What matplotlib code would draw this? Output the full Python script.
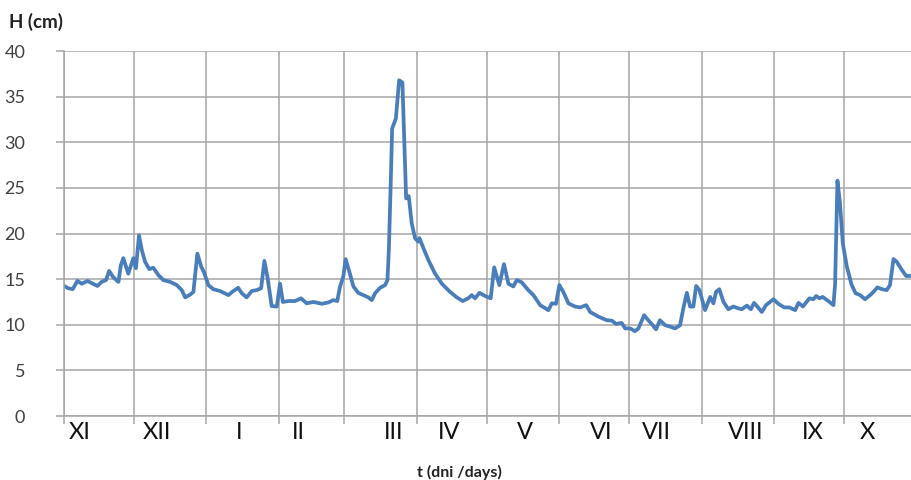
import matplotlib.pyplot as plt
from matplotlib.ticker import FixedLocator, NullFormatter

plt.rcParams['font.family'] = ['Lato', 'DejaVu Sans']

# days counted from 1 November
days = [0.1, 1.8, 3.7, 5.7, 7.6, 10, 12.3, 14.3, 16.1, 18, 19.3, 21.1, 23.3, 24.3, 25.4,
        27.5, 29.7, 30.8, 32.1, 33.3, 34.7, 36.5, 38.2, 40.4, 42.5, 45.4, 48.3, 50.4, 51.9,
        54, 55.4, 57.1, 58.7, 60, 61.8, 63.9, 66.8, 70.4, 72.5, 74.6, 76.1, 78.2, 80.4, 82.5,
        84.4, 85.8, 87.2, 88.9, 91.1, 92.5, 93.7, 96.1, 98.9, 101.5,
        103.9, 106.8, 110.4, 113.2, 115.3, 117.0, 118.2, 119.6, 120.6, 122.2, 123.9, 126.0,
        128.2, 130.3, 131.8, 133.2, 135.3, 137.5, 138.5, 139.1, 139.9, 140.5, 142.1, 143.5,
        144.9, 145.6, 146.5, 147.6, 148.9, 150.3, 151.7, 152.2, 153.9, 156.0, 158.9, 161.8,
        165.3, 168.2, 170.7, 173.1, 174.6, 176.0, 177.9, 180.3, 182.7, 184.2, 186.4, 188.4,
        190.3, 192.4, 193.9, 196.0, 198.8, 201.0, 203.9, 207.4, 208.9, 210.7, 212.1, 213.8,
        216.0, 218.8, 221.0, 223.6, 225.3, 228.8, 232.4, 234.6, 236.4,
        238.8, 240.3, 242.4, 244.5, 246.0, 248.4, 250.2, 252.1, 253.5, 255.2, 257.4, 259.5,
        261.7, 263.8, 265.2, 266.7, 268.1, 269.5, 270.7, 272.1, 274.5, 276.7, 278.1, 279.2,
        280.6, 282.4, 284.5, 286.6, 288.8, 290.2, 292.4, 294.1, 295.5, 296.9, 298.8, 300.6,
        303.8, 305.9, 308.4, 310.6, 313.1, 314.5, 316.4, 319.2, 320.9, 322.1, 323.5, 324.9,
        327.3, 329.5, 330.2, 331.2, 332.3, 333.5, 335.2, 337.3, 339.0, 340.9, 343.0, 345.2,
        346.6, 348.3, 350.2, 352.3, 353.7, 355.2, 356.6, 358.8, 360.6, 362.6]

height = [14.25, 14.0, 13.9, 14.8, 14.5, 14.8, 14.5, 14.25, 14.7, 14.9, 15.9, 15.2, 14.7, 16.5, 17.3,
          15.6, 17.3, 16.2, 19.8, 18.2, 16.9, 16.1, 16.25, 15.45, 14.9, 14.7, 14.35, 13.8, 13.0,
          13.3, 13.6, 17.8, 16.4, 15.7, 14.35, 13.9, 13.7, 13.25, 13.7, 14.05, 13.45, 13.0, 13.7, 13.8,
          14.0, 17.0, 15.1, 12.05, 12.0, 14.5, 12.5, 12.6, 12.6, 12.9,
          12.35, 12.5, 12.3, 12.45, 12.7, 12.6, 14.2, 15.3, 17.2, 15.8, 14.2, 13.5,
          13.25, 13.0, 12.7, 13.45, 14.05, 14.35, 14.9, 18.2, 25.5, 31.5, 32.6, 36.8,
          36.55, 31.0, 23.85, 24.1, 21.1, 19.5, 19.1, 19.5, 18.4, 17.1, 15.6, 14.5,
          13.6, 13.0, 12.6, 12.9, 13.25, 12.9, 13.5, 13.15, 12.9, 16.3, 14.35, 16.65,
          14.5, 14.2, 14.9, 14.65, 13.8, 13.25, 12.15, 11.6, 12.35, 12.3, 14.35, 13.6,
          12.35, 12.0, 11.9, 12.15, 11.4, 10.9, 10.5, 10.45, 10.1,
          10.2, 9.6, 9.6, 9.3, 9.6, 11.05, 10.5, 9.95, 9.5, 10.5, 9.95, 9.8,
          9.6, 9.95, 11.8, 13.5, 12.0, 12.0, 14.25, 13.8, 11.6, 13.05, 12.35, 13.6,
          13.9, 12.5, 11.7, 12.0, 11.8, 11.7, 12.1, 11.7, 12.4, 12.0, 11.4, 12.15,
          12.8, 12.3, 11.9, 11.9, 11.6, 12.4, 12.0, 12.9, 12.8, 13.15, 12.9, 13.05,
          12.6, 12.15, 14.5, 25.8, 23.3, 18.9, 16.4, 14.35, 13.45, 13.25, 12.8, 13.25,
          13.6, 14.1, 13.9, 13.8, 14.35, 17.2, 16.9, 16.0, 15.35, 15.35]

month_starts = [0, 30, 61, 92, 120, 151, 181, 212, 242, 273, 304, 334]
month_names = ['XI', 'XII', 'I', 'II', 'III', 'IV', 'V', 'VI', 'VII', 'VIII', 'IX', 'X']
name_pos = [6.9, 39.7, 74.8, 100.2, 141, 165, 197.4, 230.2, 253.8, 292, 320.6, 343.9]

grid_col = '#a6a6a6'

fig = plt.figure(figsize=(9.11, 4.8), dpi=100)
ax = fig.add_axes([0.0703, 0.1333, 0.9297, 0.7604])

ax.plot(days, height, color='#4a7ebb', linewidth=2.7, solid_joinstyle='round')

ax.set_xlim(0, 362.7)
ax.set_ylim(0, 40)
ax.set_yticks(range(0, 41, 5))

ax.xaxis.set_major_locator(FixedLocator(month_starts))
ax.xaxis.set_major_formatter(NullFormatter())
ax.xaxis.set_minor_locator(FixedLocator(name_pos))
ax.set_xticklabels(month_names, minor=True)

ax.grid(True, which='major', color=grid_col, linewidth=1.1)
ax.set_axisbelow(True)
ax.tick_params(axis='x', which='major', length=6, color=grid_col, width=1.1)
ax.tick_params(axis='x', which='minor', length=0, labelsize=17, labelcolor='#111111', pad=4)
ax.tick_params(axis='y', length=6, color=grid_col, width=1.1, labelsize=13,
               labelcolor='#404040', pad=22)

for side in ['top', 'right']:
    ax.spines[side].set_visible(False)
for side in ['left', 'bottom']:
    ax.spines[side].set_color(grid_col)
    ax.spines[side].set_linewidth(1.1)

fig.text(0.01, 0.955, 'H (cm)', fontsize=13.5, fontweight='bold', color='#222222', va='center')
fig.text(0.504, 0.016, 't (dni /days)', fontsize=11.5, fontweight='bold', color='#222222',
         ha='center', va='center')

fig.savefig('out.png', dpi=100)
